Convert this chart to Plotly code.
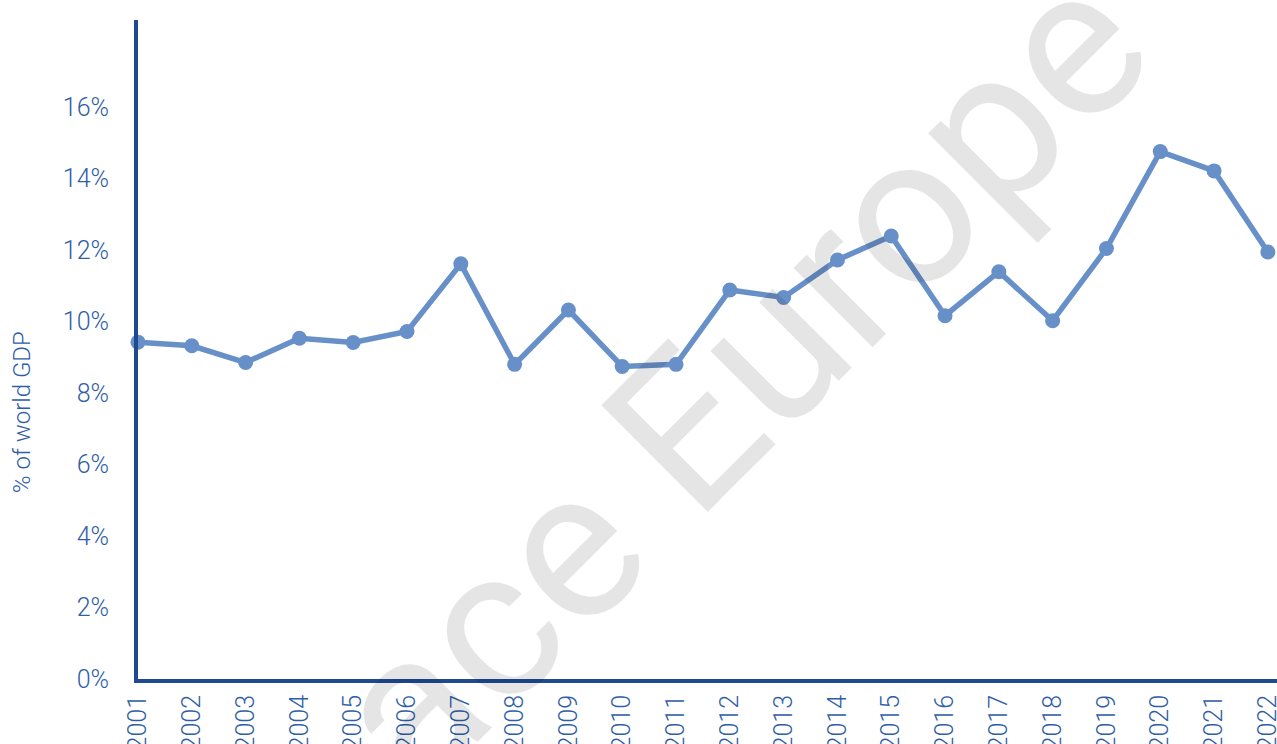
import plotly.graph_objects as go

years = list(range(2001, 2023))
share_pct = [9.42, 9.32, 8.85, 9.53, 9.41, 9.72, 11.61, 8.80, 10.32, 8.74, 8.80,
             10.88, 10.67, 11.72, 12.39, 10.16, 11.39, 10.02, 12.04, 14.75, 14.21, 11.94]
y_ticks = [0, 2, 4, 6, 8, 10, 12, 14, 16]
y_title = "% of world GDP"
watermark = "Space Europe"

axis_color = "#1f4a92"
label_color = "#2f5ea8"
line_color = "#6890c8"

fig = go.Figure()
fig.add_trace(go.Scatter(
    x=years, y=share_pct, mode="lines+markers",
    line=dict(color=line_color, width=5.5),
    marker=dict(color=line_color, size=15),
    cliponaxis=False, showlegend=False,
))

font_main = dict(family="Roboto", size=25, color=label_color, weight=300)

fig.update_layout(
    width=1277, height=744,
    margin=dict(l=138, r=0, t=20, b=65),
    paper_bgcolor="white", plot_bgcolor="white",
    font=font_main,
    xaxis=dict(
        range=[2001, 2022.17], tickmode="array", tickvals=years,
        ticktext=[str(y) for y in years], tickangle=-90,
        showgrid=False, zeroline=False, showline=True,
        linecolor=axis_color, linewidth=4, ticks="",
        ticklabelstandoff=2, tickfont=font_main,
        automargin=False, ticklabeloverflow="allow",
    ),
    yaxis=dict(
        range=[0, 18.43], tickmode="array", tickvals=y_ticks,
        ticktext=[f"{v}%" for v in y_ticks],
        showgrid=False, zeroline=False, showline=True,
        linecolor=axis_color, linewidth=4, ticks="",
        ticklabelstandoff=20, tickfont=font_main,
        automargin=False, ticklabeloverflow="allow",
    ),
    annotations=[
        dict(text=y_title, xref="paper", yref="paper", x=-0.1018, y=0.405,
             xanchor="center", yanchor="middle", textangle=-90, showarrow=False,
             font=dict(family="Roboto", size=24, color=label_color, weight=300)),
        dict(text=watermark, xref="paper", yref="paper", x=0.451, y=0.324,
             xanchor="center", yanchor="middle", textangle=-45, showarrow=False,
             font=dict(family="Roboto", size=212, color="rgba(0,0,0,0.1)", weight=400)),
    ],
)

fig.write_html("out.html", config={"displayModeBar": False},
               post_script="document.body.style.margin='0';document.body.style.overflow='hidden';")
